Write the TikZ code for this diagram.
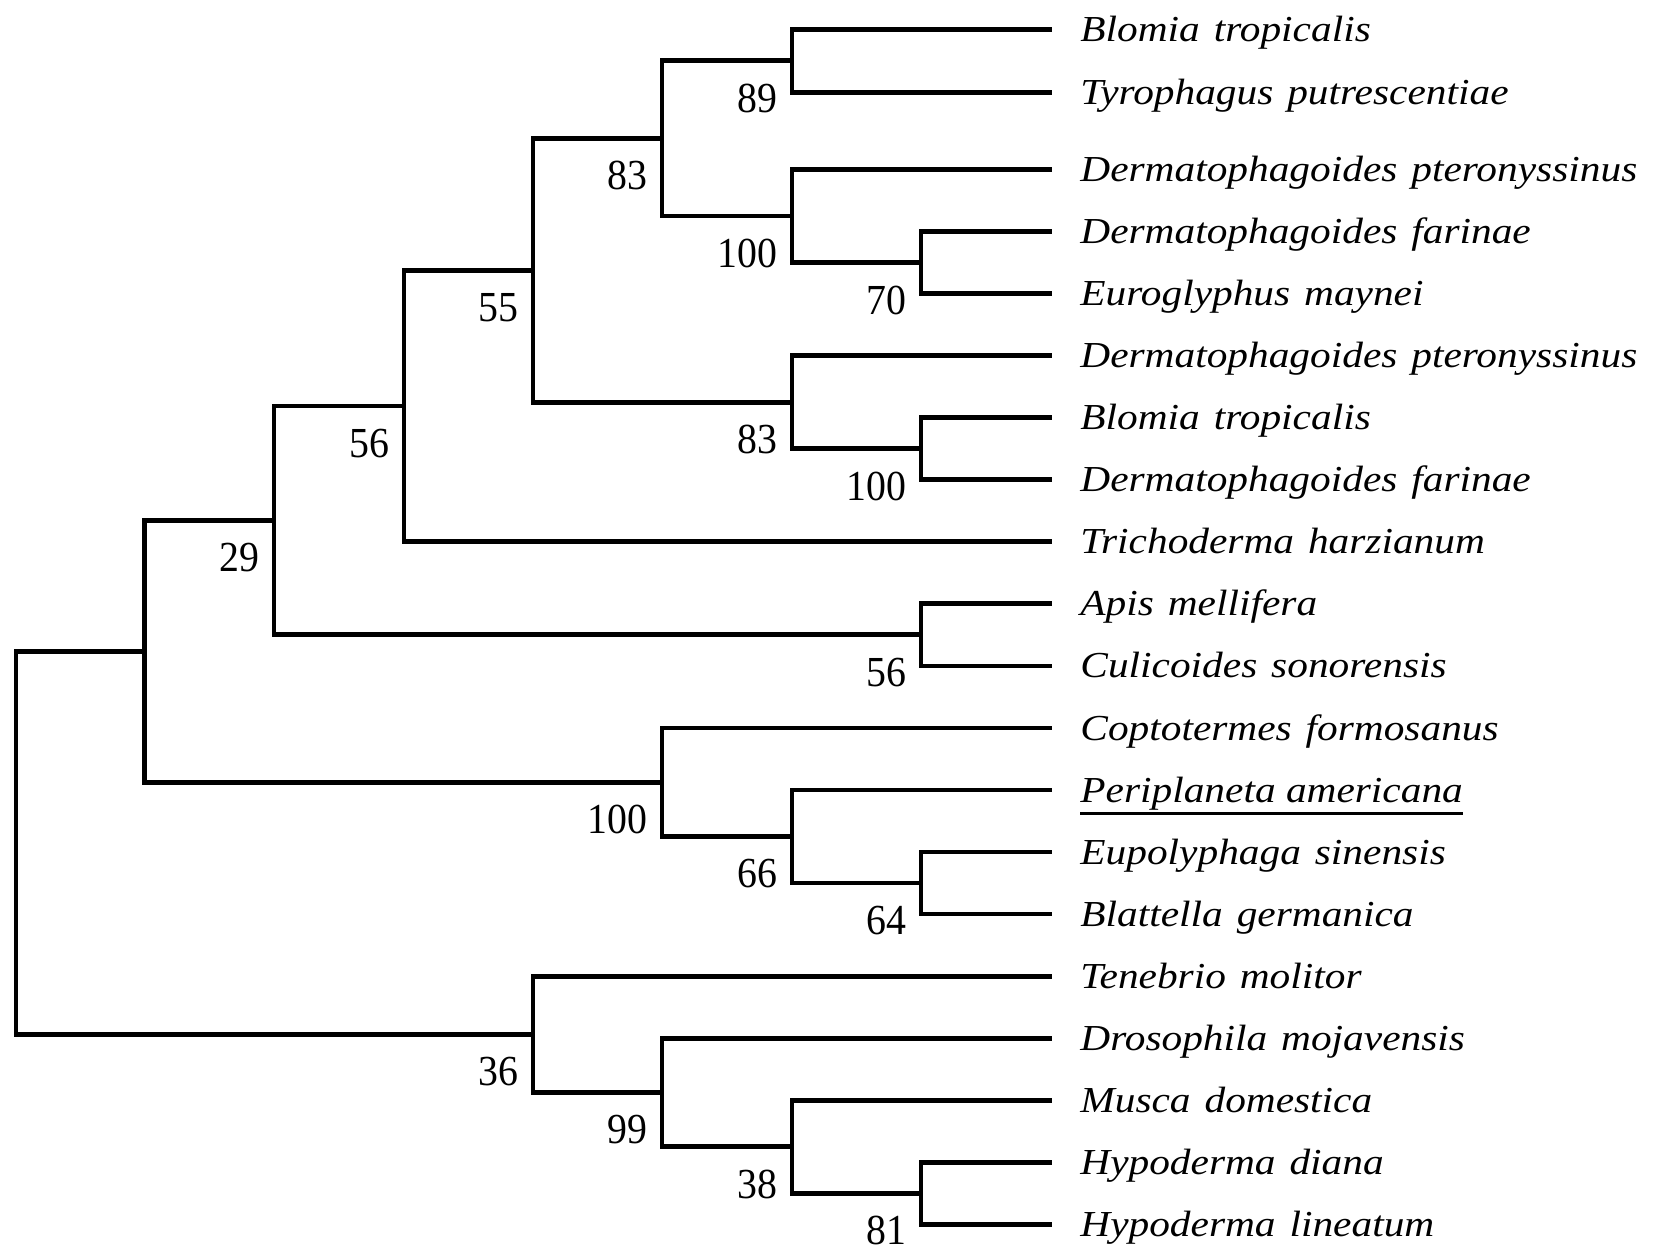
\documentclass[tikz,border=0pt]{standalone}
\usepackage{fontspec}
\setmainfont{Liberation Serif}
\newfontfamily\namefont[FakeStretch=1.13]{Liberation Serif}
\newfontfamily\numfont[FakeStretch=0.93]{Liberation Serif}
\newcommand{\gp}{\hspace{0.38em}}
\usetikzlibrary{calc}
\begin{document}
\begin{tikzpicture}[x=0.5pt,y=-0.5pt,
  branch/.style={line width=2.4pt, line join=miter, line cap=butt},
  taxon/.style={inner sep=0pt, anchor=base west, font=\namefont\itshape\fontsize{18.3}{20}\selectfont},
  boot/.style={inner sep=0pt, anchor=east, font=\numfont\fontsize{21.4}{24}\selectfont},
  uline/.style={line width=1.8pt}]
\useasboundingbox (0,0) rectangle (1654,1259);
% leaf tips and names
\foreach \i/\y/\t in {
  1/29.4/{Blomia\gp tropicalis},
  2/92.3/{Tyrophagus\gp putrescentiae},
  3/169.5/{Dermatophagoides\gp pteronyssinus},
  4/231.55/{Dermatophagoides\gp farinae},
  5/293.6/{Euroglyphus\gp maynei},
  6/355.65/{Dermatophagoides\gp pteronyssinus},
  7/417.7/{Blomia\gp tropicalis},
  8/479.75/{Dermatophagoides\gp farinae},
  9/541.8/{Trichoderma\gp harzianum},
  10/603.85/{Apis\gp mellifera},
  11/665.9/{Culicoides\gp sonorensis},
  12/728.0/{Coptotermes\gp formosanus},
  13/790.0/{Periplaneta americana},
  14/852.0/{Eupolyphaga\gp sinensis},
  15/914.0/{Blattella\gp germanica},
  16/976.15/{Tenebrio\gp molitor},
  17/1038.2/{Drosophila\gp mojavensis},
  18/1100.25/{Musca\gp domestica},
  19/1162.3/{Hypoderma\gp diana},
  20/1224.35/{Hypoderma\gp lineatum}}{
  \coordinate (t\i) at (1052,\y);
  \node[taxon] (s\i) at (1080,\y+12) {\t};
}
% internal nodes
\coordinate (n89)  at (792,60.85);
\coordinate (n70)  at (921,262.575);
\coordinate (n100a) at (792,216.04);
\coordinate (n83a) at (662,138.44);
\coordinate (n100b) at (921,448.725);
\coordinate (n83b) at (792,402.19);
\coordinate (n55)  at (533,270.31);
\coordinate (n56a) at (404,406.06);
\coordinate (n56b) at (921,634.875);
\coordinate (n29)  at (274,520.47);
\coordinate (n64)  at (921,883.0);
\coordinate (n66)  at (792,836.5);
\coordinate (n100c) at (662,782.25);
\coordinate (nA)   at (144.5,651.36);
\coordinate (n81)  at (921,1193.33);
\coordinate (n38)  at (792,1146.79);
\coordinate (n99)  at (662,1092.5);
\coordinate (n36)  at (533,1034.3);
\coordinate (root) at (16,842.8);
% branches
\draw[branch] (n89) |- (t1);   \draw[branch] (n89) |- (t2);
\draw[branch] (n70) |- (t4);   \draw[branch] (n70) |- (t5);
\draw[branch] (n100a) |- (t3); \draw[branch] (n100a) |- (n70);
\draw[branch] (n83a) |- (n89); \draw[branch] (n83a) |- (n100a);
\draw[branch] (n100b) |- (t7); \draw[branch] (n100b) |- (t8);
\draw[branch] (n83b) |- (t6);  \draw[branch] (n83b) |- (n100b);
\draw[branch] (n55) |- (n83a); \draw[branch] (n55) |- (n83b);
\draw[branch] (n56a) |- (n55); \draw[branch] (n56a) |- (t9);
\draw[branch] (n56b) |- (t10); \draw[branch] (n56b) |- (t11);
\draw[branch] (n29) |- (n56a); \draw[branch] (n29) |- (n56b);
\draw[branch] (n64) |- (t14);  \draw[branch] (n64) |- (t15);
\draw[branch] (n66) |- (t13);  \draw[branch] (n66) |- (n64);
\draw[branch] (n100c) |- (t12); \draw[branch] (n100c) |- (n66);
\draw[branch] (nA) |- (n29);   \draw[branch] (nA) |- (n100c);
\draw[branch] (n81) |- (t19);  \draw[branch] (n81) |- (t20);
\draw[branch] (n38) |- (t18);  \draw[branch] (n38) |- (n81);
\draw[branch] (n99) |- (t17);  \draw[branch] (n99) |- (n38);
\draw[branch] (n36) |- (t16);  \draw[branch] (n36) |- (n99);
\draw[branch] (root) |- (nA);  \draw[branch] (root) |- (n36);
% bootstrap values
\node[boot] (b89)  at ([shift={(-14,37.5)}]n89) {89};
\node[boot] (b70)  at ([shift={(-14,37.5)}]n70) {70};
\node[boot] (b100a) at ([shift={(-14,37.5)}]n100a) {100};
\node[boot] (b83a) at ([shift={(-14,37.5)}]n83a) {83};
\node[boot] (b100b) at ([shift={(-14,37.5)}]n100b) {100};
\node[boot] (b83b) at ([shift={(-14,37.5)}]n83b) {83};
\node[boot] (b55)  at ([shift={(-14,37.5)}]n55) {55};
\node[boot] (b56a) at ([shift={(-14,37.5)}]n56a) {56};
\node[boot] (b56b) at ([shift={(-14,37.5)}]n56b) {56};
\node[boot] (b29)  at ([shift={(-14,37.5)}]n29) {29};
\node[boot] (b64)  at ([shift={(-14,37.5)}]n64) {64};
\node[boot] (b66)  at ([shift={(-14,37.5)}]n66) {66};
\node[boot] (b100c) at ([shift={(-14,37.5)}]n100c) {100};
\node[boot] (b81)  at ([shift={(-14,37.5)}]n81) {81};
\node[boot] (b38)  at ([shift={(-14,37.5)}]n38) {38};
\node[boot] (b99)  at ([shift={(-14,37.5)}]n99) {99};
\node[boot] (b36)  at ([shift={(-14,37.5)}]n36) {36};
% underline
\draw[uline] ($(s13.base west)+(0,11.5)$) -- ($(s13.base east)+(0,11.5)$);
\end{tikzpicture}
\end{document}
